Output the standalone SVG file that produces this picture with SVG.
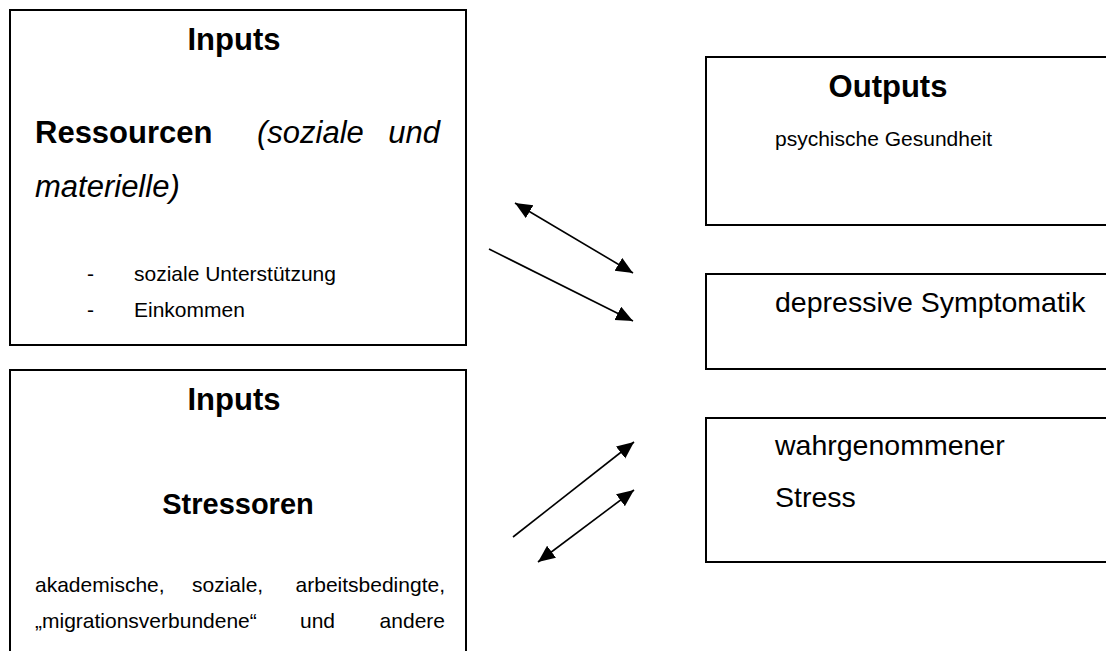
<svg xmlns="http://www.w3.org/2000/svg" width="1106" height="651" viewBox="0 0 1106 651">
  <style>
    .box { fill: #ffffff; stroke: #000000; stroke-width: 2; }
    .t { font-family: "Liberation Sans", Arial, sans-serif; fill: #000000; }
    .h { font-weight: bold; font-size: 31px; }
    .hs { font-weight: bold; font-size: 29px; }
    .it { font-style: italic; font-size: 31px; }
    .b21 { font-size: 21px; }
    .b28 { font-size: 28.5px; }
    .link { stroke: #000000; stroke-width: 1.6; fill: none; }
  </style>
  <defs>
    <marker id="tip" markerUnits="userSpaceOnUse" markerWidth="18" markerHeight="16" refX="17" refY="7.5" orient="auto-start-reverse">
      <path d="M0,0 L17,7.5 L0,15 Z" fill="#000000"/>
    </marker>
  </defs>
  <rect width="1106" height="651" fill="#ffffff"/>

  <!-- Input: resources -->
  <g id="inputs-ressourcen">
    <rect class="box" x="10" y="10" width="456" height="335"/>
    <text class="t h" x="234" y="50" text-anchor="middle">Inputs</text>
    <text class="t h" x="35" y="143">Ressourcen</text>
    <text class="t it" x="257" y="143">(soziale</text>
    <text class="t it" x="440" y="143" text-anchor="end">und</text>
    <text class="t it" x="35" y="197">materielle)</text>
    <text class="t b21" x="87" y="281">-</text>
    <text class="t b21" x="134" y="281">soziale Unterstützung</text>
    <text class="t b21" x="87" y="317">-</text>
    <text class="t b21" x="134" y="317">Einkommen</text>
  </g>

  <!-- Input: stressors -->
  <g id="inputs-stressoren">
    <rect class="box" x="10" y="370" width="456" height="300"/>
    <text class="t h" x="234" y="410" text-anchor="middle">Inputs</text>
    <text class="t hs" x="238" y="514" text-anchor="middle">Stressoren</text>
    <text class="t b21" x="35" y="592">akademische,</text>
    <text class="t b21" x="192" y="592">soziale,</text>
    <text class="t b21" x="445" y="592" text-anchor="end">arbeitsbedingte,</text>
    <text class="t b21" x="35" y="628">„migrationsverbundene“</text>
    <text class="t b21" x="300" y="628">und</text>
    <text class="t b21" x="445" y="628" text-anchor="end">andere</text>
  </g>

  <!-- Outputs -->
  <g id="outputs-gesundheit">
    <rect class="box" x="706" y="57" width="420" height="168"/>
    <text class="t h" x="888" y="97" text-anchor="middle">Outputs</text>
    <text class="t b21" x="775" y="146">psychische Gesundheit</text>
  </g>

  <g id="outputs-depression">
    <rect class="box" x="706" y="274" width="420" height="95"/>
    <text class="t b28" x="775" y="312">depressive Symptomatik</text>
  </g>

  <g id="outputs-stress">
    <rect class="box" x="706" y="418" width="420" height="144"/>
    <text class="t b28" x="775" y="455">wahrgenommener</text>
    <text class="t b28" x="775" y="507">Stress</text>
  </g>

  <!-- Connectors -->
  <g id="connectors">
    <line class="link" x1="515" y1="203" x2="633" y2="273" marker-start="url(#tip)" marker-end="url(#tip)"/>
    <line class="link" x1="489" y1="249" x2="633" y2="321" marker-end="url(#tip)"/>
    <line class="link" x1="513" y1="537" x2="634" y2="442" marker-end="url(#tip)"/>
    <line class="link" x1="538" y1="562" x2="634" y2="490" marker-start="url(#tip)" marker-end="url(#tip)"/>
  </g>
</svg>
